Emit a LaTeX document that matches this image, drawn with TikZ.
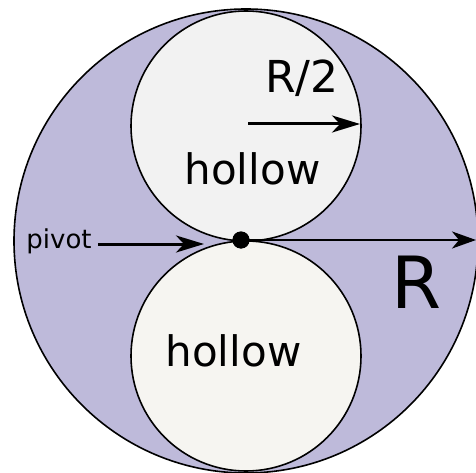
\documentclass[tikz,border=0pt]{standalone}
\usepackage{fontspec}
\setmainfont{DejaVu Sans}
\usetikzlibrary{arrows.meta}
\definecolor{bodyfill}{RGB}{190,186,218}
\definecolor{topfill}{RGB}{242,242,242}
\definecolor{botfill}{RGB}{246,245,241}
\tikzset{
  disc/.style={draw=black, line width=1.6pt},
  lbl/.style={anchor=base, inner sep=0pt, text=black},
  bigarrow/.style={line width=3pt, -{Stealth[length=28pt, width=17pt, inset=8pt]}},
  radarrow/.style={line width=2.2pt, -{Stealth[length=24pt, width=17pt, inset=7pt]}}
}
\begin{document}
\begin{tikzpicture}[x=1pt,y=-1pt]
\useasboundingbox (0,0) rectangle (476,473);
\clip (0,0) rectangle (476,473);
\draw[disc, fill=bodyfill] (246,241) circle (232pt);
\draw[disc, fill=topfill] (246,126) circle (115pt);
\draw[disc, fill=botfill] (246,356) circle (115pt);

\node[lbl, font=\fontsize{42}{50}\selectfont] (hollowtop) at (252.5,184) {hollow};
\node[lbl, font=\fontsize{42}{50}\selectfont] (hollowbot) at (233.5,366) {hollow};
\node[lbl, font=\fontsize{44}{52}\selectfont] (rhalf) at (302,93) {R/2};
\node[lbl, font=\fontsize{72}{80}\selectfont] (rlabel) at (417,308) {R};
\node[lbl, font=\fontsize{26}{30}\selectfont] (pivotlabel) at (59,248) {pivot};

\coordinate (pivotfrom) at (98,244);
\coordinate (pivotto) at (204,244);
\coordinate (halffrom) at (248,124);
\coordinate (halfto) at (360,124);
\coordinate (radto) at (476,240);
\node[circle, fill=black, minimum size=17pt, inner sep=0pt] (pivot) at (241,240) {};

\draw[bigarrow] (pivotfrom) -- (pivotto);
\draw[bigarrow] (halffrom) -- (halfto);
\draw[radarrow] (pivot.center) -- (radto);
\node[circle, fill=black, minimum size=17pt, inner sep=0pt] at (pivot) {};
\end{tikzpicture}
\end{document}
